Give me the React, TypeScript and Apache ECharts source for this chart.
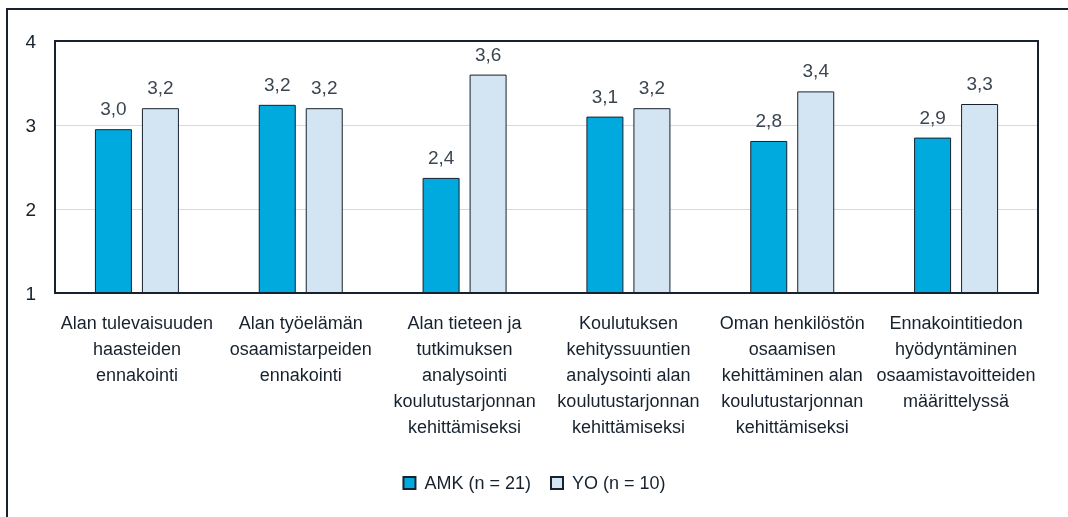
import React, { useEffect, useRef } from "react";
import * as echarts from "echarts";

const categories = [
  "Alan tulevaisuuden\nhaasteiden\nennakointi",
  "Alan työelämän\nosaamistarpeiden\nennakointi",
  "Alan tieteen ja\ntutkimuksen\nanalysointi\nkoulutustarjonnan\nkehittämiseksi",
  "Koulutuksen\nkehityssuuntien\nanalysointi alan\nkoulutustarjonnan\nkehittämiseksi",
  "Oman henkilöstön\nosaamisen\nkehittäminen alan\nkoulutustarjonnan\nkehittämiseksi",
  "Ennakointitiedon\nhyödyntäminen\nosaamistavoitteiden\nmäärittelyssä",
];
const amkName = "AMK (n = 21)";
const yoName = "YO (n = 10)";
const amkValues = [2.95, 3.24, 2.37, 3.1, 2.81, 2.85];
const yoValues = [3.2, 3.2, 3.6, 3.2, 3.4, 3.25];

const FONT = "'Liberation Sans', Arial, sans-serif";
const DARK = "#17222e";

export default function App() {
  const ref = useRef<HTMLDivElement>(null);
  useEffect(() => {
    if (!ref.current) return;
    const chart = echarts.init(ref.current, undefined, { renderer: "svg" });
    const labelFmt = (p: any) => Number(p.value).toFixed(1).replace(".", ",");
    const mkLabel = () => ({
      show: true,
      position: "top" as const,
      distance: 11,
      formatter: labelFmt,
      fontFamily: FONT,
      fontSize: 19,
      color: "#3b4652",
    });
    chart.setOption({
      animation: false,
      textStyle: { fontFamily: FONT },
      graphic: [
        {
          type: "rect",
          shape: { x: 7, y: 9, width: 1200, height: 1000 },
          style: { fill: "none", stroke: DARK, lineWidth: 2 },
          silent: true,
        },
        {
          type: "rect",
          shape: { x: 55, y: 41, width: 983, height: 252 },
          style: { fill: "none", stroke: DARK, lineWidth: 2 },
          silent: true,
          z: 10,
        },
      ],
      grid: {
        left: 55,
        top: 41,
        right: 30,
        bottom: 224,
        show: false,
      },
      legend: {
        data: [amkName, yoName],
        bottom: 20,
        left: "center",
        icon: "rect",
        itemWidth: 12,
        itemHeight: 12,
        itemGap: 19,
        textStyle: {
          fontFamily: FONT,
          fontSize: 18,
          color: DARK,
          padding: [0, 0, 0, 4],
        },
      },
      xAxis: {
        type: "category",
        data: categories,
        axisLine: { show: false },
        axisTick: { show: false },
        axisLabel: {
          interval: 0,
          margin: 17,
          fontFamily: FONT,
          fontSize: 18,
          lineHeight: 26,
          color: DARK,
          align: "center",
        },
      },
      yAxis: {
        type: "value",
        min: 1,
        max: 4,
        interval: 1,
        axisLine: { show: false },
        axisTick: { show: false },
        splitLine: { show: true, lineStyle: { color: "#d9d9d9", width: 1 } },
        axisLabel: {
          margin: 19,
          fontFamily: FONT,
          fontSize: 19,
          color: DARK,
        },
      },
      series: [
        {
          name: amkName,
          type: "bar",
          data: amkValues,
          barWidth: 37,
          barGap: "27%",
          itemStyle: { color: "#00aadf", borderColor: DARK, borderWidth: 1 },
          label: mkLabel(),
        },
        {
          name: yoName,
          type: "bar",
          data: yoValues,
          barWidth: 37,
          barGap: "27%",
          itemStyle: { color: "#d3e5f3", borderColor: DARK, borderWidth: 1 },
          label: mkLabel(),
        },
      ],
    });
    return () => chart.dispose();
  }, []);
  return (
    <div
      ref={ref}
      style={{ position: "fixed", left: 0, top: 0, width: 1068, height: 517 }}
    />
  );
}
